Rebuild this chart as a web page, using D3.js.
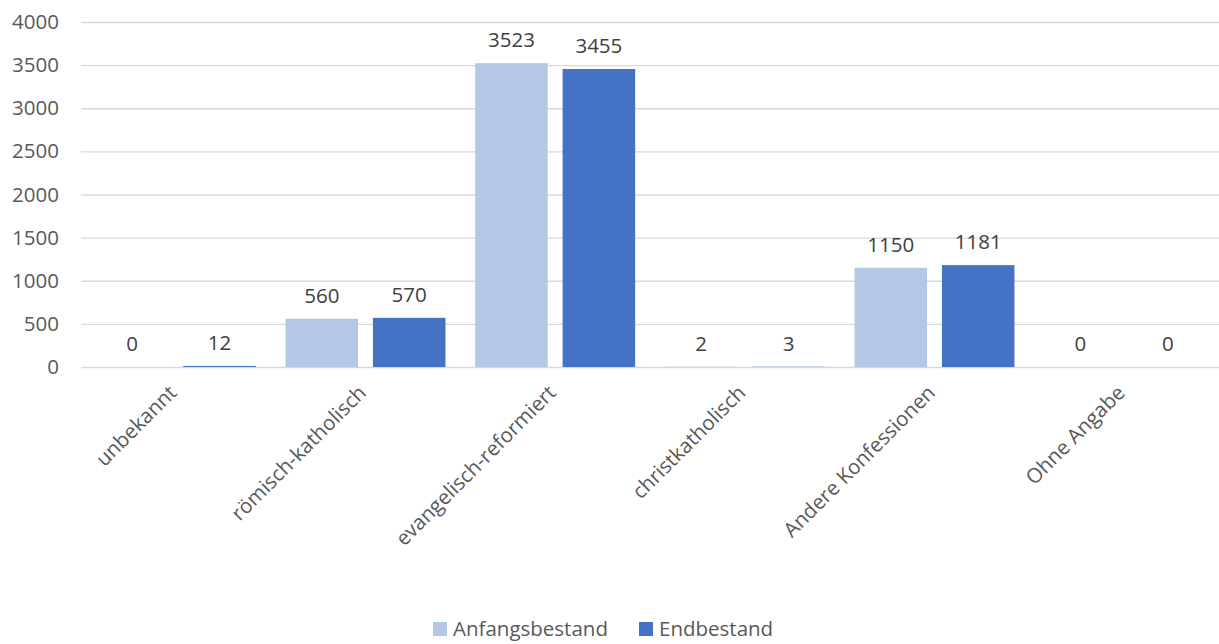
<!DOCTYPE html>
<html><head><meta charset="utf-8">
<script src="https://cdn.jsdelivr.net/npm/d3@7"></script>
<style>body{margin:0;background:#fff;} svg{display:block;}</style>
</head><body>
<svg id="c" width="1219" height="644"></svg>
<script>
const categories = ["unbekannt","römisch-katholisch","evangelisch-reformiert","christkatholisch","Andere Konfessionen","Ohne Angabe"];
const seriesNames = ["Anfangsbestand","Endbestand"];
const anfangsbestand = [0,560,3523,2,1150,0];
const endbestand = [12,570,3455,3,1181,0];
const yTicks = [0,500,1000,1500,2000,2500,3000,3500,4000];
const colors = ["#B4C7E7","#4472C4"];

(function(){
const svg = d3.select("#c");
const font = "'Open Sans', sans-serif";
const fs = "20.5px";
const textColor = "#595959";
const mLeft = 81, mRight = 1219, mTop = 22, mBottom = 367;

const x = d3.scaleBand().domain(categories).range([mLeft, mRight]).paddingInner(0).paddingOuter(0);
const x1 = d3.scaleBand().domain(seriesNames).range([0, x.bandwidth()]).paddingInner(0.17).paddingOuter(0.17);
const y = d3.scaleLinear().domain([0,4000]).range([mBottom, mTop]);

const yAxis = d3.axisLeft(y).tickValues(yTicks).tickFormat(d3.format("d")).tickSize(-(mRight-mLeft)).tickPadding(20);
const gy = svg.append("g").attr("transform",`translate(${mLeft},0)`).call(yAxis);
gy.select(".domain").remove();
gy.selectAll(".tick line").attr("stroke","#D9D9D9").attr("stroke-width",1.3);
gy.selectAll(".tick text").attr("fill",textColor).style("font-family",font).style("font-size",fs).attr("x",-22);

const data = categories.map((c,i)=>({cat:c, vals:[anfangsbestand[i], endbestand[i]]}));
const groups = svg.append("g").selectAll("g").data(data).join("g")
  .attr("transform", d=>`translate(${x(d.cat)},0)`);
groups.selectAll("rect").data(d=>d.vals.map((v,j)=>({v, s:seriesNames[j], j})))
  .join("rect")
  .attr("x", d=>x1(d.s)).attr("width", x1.bandwidth())
  .attr("y", d=>y(d.v)).attr("height", d=>y(0)-y(d.v))
  .attr("fill", d=>colors[d.j]);
groups.selectAll("text").data(d=>d.vals.map((v,j)=>({v, s:seriesNames[j], j})))
  .join("text")
  .attr("x", d=>x1(d.s)+x1.bandwidth()/2).attr("y", d=>y(d.v)-16)
  .attr("text-anchor","middle").attr("fill","#404040")
  .style("font-family",font).style("font-size",fs)
  .text(d=>d.v);

svg.append("g").selectAll("text").data(categories).join("text")
  .attr("transform", d=>`translate(${x(d)+x.bandwidth()/2+2},${mBottom+27}) rotate(-45)`)
  .attr("text-anchor","end").attr("fill",textColor)
  .style("font-family",font).style("font-size",fs)
  .text(d=>d);

const legend = svg.append("g");
const lx = [433, 639];
seriesNames.forEach((s,i)=>{
  legend.append("rect").attr("x",lx[i]).attr("y",622).attr("width",14).attr("height",14).attr("fill",colors[i]);
  legend.append("text").attr("x",lx[i]+20).attr("y",636).attr("fill",textColor)
    .style("font-family",font).style("font-size",fs).text(s);
});
})();
</script>
</body></html>
